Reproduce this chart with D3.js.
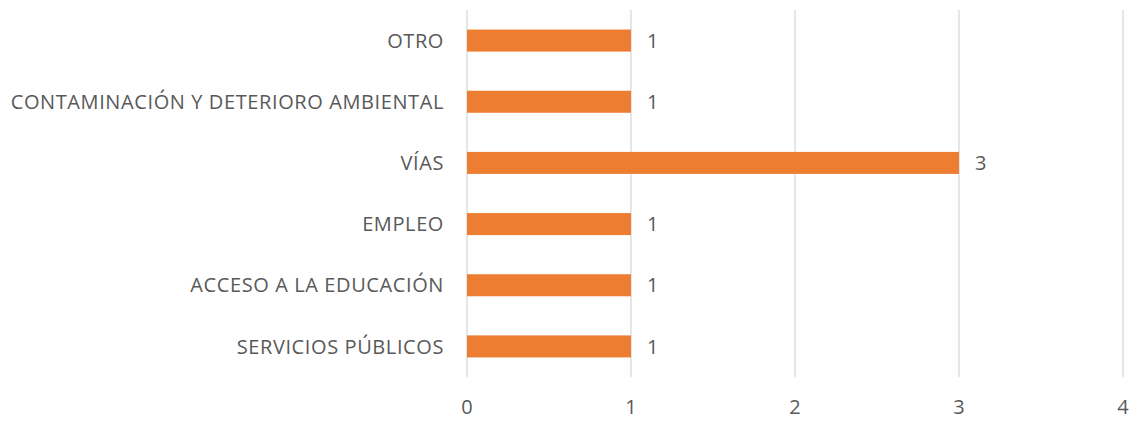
<!DOCTYPE html>
<html>
<head>
<meta charset="utf-8">
<script src="https://cdn.jsdelivr.net/npm/d3@7"></script>
<style>
  body { margin: 0; background: #fff; }
  svg text { font-family: "Open Sans", sans-serif; fill: #595959; }
</style>
</head>
<body>
<svg id="chart" width="1132" height="421"></svg>
<script>
const categories = ['OTRO', 'CONTAMINACIÓN Y DETERIORO AMBIENTAL', 'VÍAS', 'EMPLEO', 'ACCESO A LA EDUCACIÓN', 'SERVICIOS PÚBLICOS']
const values = [1, 1, 3, 1, 1, 1]
const ticks = [0, 1, 2, 3, 4]

const margin = { top: 10, right: 9, bottom: 44, left: 467 }
const width = 1132, height = 421

const svg = d3.select('#chart')

const x = d3.scaleLinear().domain([0, 4]).range([margin.left, width - margin.right])
const y = d3.scaleBand().domain(categories).range([margin.top, height - margin.bottom]).paddingInner(0.64).paddingOuter(0.32)

// gridlines
svg.append('g').selectAll('line').data(ticks).enter().append('line')
  .attr('x1', d => x(d)).attr('x2', d => x(d))
  .attr('y1', margin.top).attr('y2', height - margin.bottom)
  .attr('stroke', '#d9d9d9').attr('stroke-width', 1.3)

// bars
svg.append('g').selectAll('rect').data(values).enter().append('rect')
  .attr('x', x(0))
  .attr('y', (d, i) => y(categories[i]))
  .attr('width', d => x(d) - x(0))
  .attr('height', y.bandwidth())
  .attr('fill', '#ed7d31')

// value labels
svg.append('g').selectAll('text').data(values).enter().append('text')
  .attr('x', d => x(d) + 16)
  .attr('y', (d, i) => y(categories[i]) + y.bandwidth() / 2)
  .attr('dy', '0.36em')
  .style('font-size', '20px')
  .text(d => d)

// category labels
svg.append('g').selectAll('text').data(categories).enter().append('text')
  .attr('x', margin.left - 23)
  .attr('y', d => y(d) + y.bandwidth() / 2)
  .attr('dy', '0.36em')
  .attr('text-anchor', 'end')
  .style('font-size', '20px')
  .style('letter-spacing', '0.6px')
  .text(d => d)

// tick labels
svg.append('g').selectAll('text').data(ticks).enter().append('text')
  .attr('x', d => x(d))
  .attr('y', 407)
  .attr('dy', '0.36em')
  .attr('text-anchor', 'middle')
  .style('font-size', '20px')
  .text(d => d)
</script>
</body>
</html>
